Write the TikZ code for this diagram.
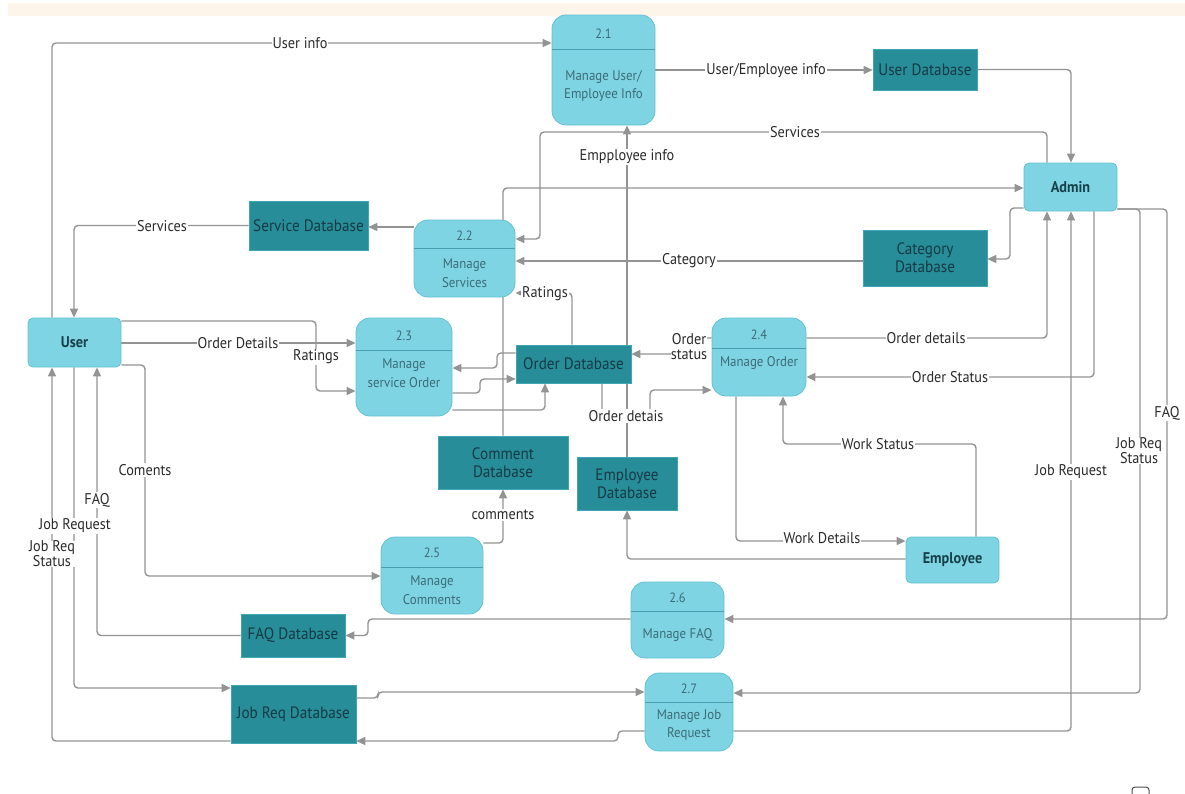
\documentclass[tikz,border=0pt]{standalone}
\usepackage{fontspec}
\setmainfont{PT Sans}[FakeStretch=0.92]
\usetikzlibrary{arrows.meta}
\pgfdeclarelayer{bg}
\pgfsetlayers{bg,main}
\definecolor{procfill}{HTML}{7ED4E3}
\definecolor{procline}{HTML}{62C2D2}
\definecolor{divcol}{HTML}{4C9FB0}
\definecolor{proctext}{HTML}{3C6C78}
\definecolor{storefill}{HTML}{278D99}
\definecolor{storeline}{HTML}{3FA6B3}
\definecolor{storetext}{HTML}{163A45}
\definecolor{enttext}{HTML}{17404B}
\definecolor{flowgray}{HTML}{939393}
\definecolor{lbltext}{HTML}{2A2A2A}
\definecolor{bandcol}{HTML}{FDF4EA}
\newcommand{\lblsize}{\fontsize{15.5}{17}\selectfont}
\newcommand{\storesize}{\fontsize{16.5}{18}\selectfont}
\newcommand{\procsize}{\fontsize{14}{18.5}\selectfont}
\newcommand{\numsize}{\fontsize{13.5}{16}\selectfont}
\begin{document}
\begin{tikzpicture}[x=1pt,y=-1pt,
  proc/.style={draw=procline,fill=procfill,line width=0.8pt,rounded corners=14pt,inner sep=0pt},
  store/.style={draw=storeline,fill=storefill,line width=0.6pt,inner sep=0pt,
    text=storetext,font=\storesize,align=center},
  entity/.style={draw=procline,fill=procfill,line width=0.8pt,rounded corners=5pt,inner sep=0pt,
    text=enttext,font=\lblsize\bfseries},
  divider/.style={draw=divcol,line width=0.8pt},
  pnum/.style={text=proctext,font=\numsize,inner sep=0pt},
  ptxt/.style={text=proctext,font=\procsize,align=center,inner sep=0pt},
  flow/.style={draw=flowgray,line width=1.4pt,rounded corners=4pt,-{Triangle[length=9pt,width=8pt]}},
  lbl/.style={fill=white,inner sep=1pt,text=lbltext,font=\lblsize,align=center}]
\useasboundingbox (0,0) rectangle (1185,793);
\fill[bandcol] (8,3) rectangle (1185,16);

% processes
\node[proc,minimum width=103pt,minimum height=110pt] (p21) at (603.5,70) {};
\node[proc,minimum width=101pt,minimum height=77pt] (p22) at (464.5,258.5) {};
\node[proc,minimum width=96pt,minimum height=98pt] (p23) at (404,367) {};
\node[proc,minimum width=94pt,minimum height=78pt] (p24) at (759,357) {};
\node[proc,minimum width=102pt,minimum height=77pt] (p25) at (432,575.5) {};
\node[proc,minimum width=93pt,minimum height=76pt] (p26) at (677.5,620) {};
\node[proc,minimum width=88pt,minimum height=78pt] (p27) at (689,712) {};
\draw[divider] (p21.west |- 0,49) -- (p21.east |- 0,49);
\draw[divider] (p22.west |- 0,248) -- (p22.east |- 0,248);
\draw[divider] (p23.west |- 0,350) -- (p23.east |- 0,350);
\draw[divider] (p24.west |- 0,348) -- (p24.east |- 0,348);
\draw[divider] (p25.west |- 0,567) -- (p25.east |- 0,567);
\draw[divider] (p26.west |- 0,611) -- (p26.east |- 0,611);
\draw[divider] (p27.west |- 0,702) -- (p27.east |- 0,702);
\node[pnum] (p21n) at (603.5,34) {2.1};
\node[ptxt] (p21t) at (603.5,86) {Manage User/\\Employee Info};
\node[pnum] (p22n) at (464.5,236) {2.2};
\node[ptxt] (p22t) at (464.5,273) {Manage\\Services};
\node[pnum] (p23n) at (404,336) {2.3};
\node[ptxt] (p23t) at (404,373) {Manage\\service Order};
\node[pnum] (p24n) at (759,335) {2.4};
\node[ptxt] (p24t) at (759,363) {Manage Order};
\node[pnum] (p25n) at (432,553) {2.5};
\node[ptxt] (p25t) at (432,590) {Manage\\Comments};
\node[pnum] (p26n) at (677.5,598) {2.6};
\node[ptxt] (p26t) at (677.5,635) {Manage FAQ};
\node[pnum] (p27n) at (689,689) {2.7};
\node[ptxt] (p27t) at (689,725) {Manage Job\\Request};

% data stores
\node[store,minimum width=104pt,minimum height=41pt] (udb) at (925,69.5) {User Database};
\node[store,minimum width=119pt,minimum height=49pt] (sdb) at (308.5,225.5) {Service Database};
\node[store,minimum width=124pt,minimum height=56pt] (cdb) at (925,258) {Category\\Database};
\node[store,minimum width=115pt,minimum height=38pt] (odb) at (573.5,364) {Order Database};
\node[store,minimum width=130pt,minimum height=53pt] (comdb) at (503,462.5) {Comment\\Database};
\node[store,minimum width=100pt,minimum height=53pt] (empdb) at (627,483.5) {Employee\\Database};
\node[store,minimum width=104pt,minimum height=43pt] (faqdb) at (293,635.5) {FAQ Database};
\node[store,minimum width=125pt,minimum height=58pt] (jrdb) at (293.5,714) {Job Req Database};

% external entities
\node[entity,minimum width=93pt,minimum height=49pt] (user) at (74.5,342.5) {User};
\node[entity,minimum width=93pt,minimum height=48pt] (admin) at (1070.5,187) {Admin};
\node[entity,minimum width=93pt,minimum height=46pt] (emp) at (952.5,560) {Employee};

% data flows
\begin{pgfonlayer}{bg}
\draw[flow] (user.north -| 52,0) |- (p21.west |- 0,43);
\draw[flow] (sdb.west) -| (74,0 |- user.north);
\draw[flow] (p22.west |- 0,227) -- (sdb.east |- 0,227);
\draw[flow] (p21.east |- 0,70) -- (udb.west |- 0,70);
\draw[flow] (udb.east) -| (1071,0 |- admin.north);
\draw[flow] (1047,0 |- admin.north) |- (540,132) |- (p22.east |- 0,239);
\draw[flow] (comdb.north) |- (admin.west |- 0,188);
\draw[flow] (empdb.north) -- (empdb.north |- p21.south);
\draw[flow] (admin.west |- 0,208) -| (1010,259) -- (cdb.east |- 0,259);
\draw[flow] (cdb.west |- 0,261) -- (p22.east |- 0,261);
\draw[flow] (572,0 |- odb.north) |- (p22.east |- 0,293);
\draw[flow] (user.east |- 0,343) -- (p23.west |- 0,343);
\draw[flow] (user.east |- 0,321) -| (316,391) -- (p23.west |- 0,391);
\draw[flow] (odb.west |- 0,353) -| (497,368) -- (p23.east |- 0,368);
\draw[flow] (p23.east |- 0,393) -| (480,379) -- (odb.west |- 0,379);
\draw[flow] (p23.east |- 0,410) -| (545,0 |- odb.south);
\draw[flow] (p24.west |- 0,338) -| (690,354) -- (odb.east |- 0,354);
\draw[flow] (602,0 |- odb.south) |- (650,415) |- (p24.west |- 0,390);
\draw[flow] (p24.east |- 0,338) -| (1047,0 |- admin.south);
\draw[flow] (1094,0 |- admin.south) |- (p24.east |- 0,377);
\draw[flow] (736,0 |- p24.south) |- (emp.west |- 0,541);
\draw[flow] (976,0 |- emp.north) |- (783,444) -- (783,0 |- p24.south);
\draw[flow] (emp.west |- 0,559) -| (empdb.south);
\draw[flow] (user.east |- 0,365) -| (145,576) -- (p25.west |- 0,576);
\draw[flow] (p25.east |- 0,543) -| (comdb.south);
\draw[flow] (faqdb.west) -| (97,0 |- user.south);
\draw[flow] (74,0 |- user.south) |- (jrdb.west |- 0,688);
\draw[flow] (jrdb.west |- 0,741) -| (52,0 |- user.south);
\draw[flow] (p26.west |- 0,619) -| (368,635.5) -- (faqdb.east);
\draw[flow] (admin.east |- 0,209) -| (1167,619) -- (p26.east |- 0,619);
\draw[flow] (admin.east |- 0,209) -| (1140,693) -- (p27.east |- 0,693);
\draw[flow] (p27.east |- 0,731) -| (1071,0 |- admin.south);
\draw[flow] (jrdb.east |- 0,698) -| (378,692) -- (p27.west |- 0,692);
\draw[flow] (p27.west |- 0,731) -| (618,741) -- (jrdb.east |- 0,741);
\end{pgfonlayer}

% flow labels
\node[lbl] (l1) at (300,43) {User info};
\node[lbl] (l2) at (766,71) {User/Employee info};
\node[lbl] (l3) at (795,132) {Services};
\node[lbl] (l4) at (627,157) {Empployee info};
\node[lbl] (l5) at (162,226) {Services};
\node[lbl] (l6) at (689,261) {Category};
\node[lbl] (l7) at (545,294) {Ratings};
\node[lbl] (l8) at (238,343) {Order Details};
\node[lbl] (l9) at (316,357) {Ratings};
\node[lbl,inner sep=0pt] (l10) at (689,347) {Order\\[-2pt]status};
\node[lbl] (l11) at (926,338) {Order details};
\node[lbl] (l12) at (950,377) {Order Status};
\node[lbl] (l13) at (626,416) {Order detais};
\node[lbl] (l14) at (1167,413) {FAQ};
\node[lbl,inner sep=0pt] (l15) at (1139,451) {Job Req\\[-2pt]Status};
\node[lbl] (l16) at (1071,472) {Job Request};
\node[lbl] (l17) at (878,444) {Work Status};
\node[lbl] (l18) at (822,538) {Work Details};
\node[lbl] (l19) at (145,470) {Coments};
\node[lbl] (l20) at (97,500) {FAQ};
\node[lbl] (l21) at (75,526) {Job Request};
\node[lbl,inner sep=0pt] (l22) at (52,554) {Job Req\\[-2pt]Status};
\node[lbl] (l23) at (503,515) {comments};

% corner widget
\draw[draw=black!70,line width=1pt,rounded corners=3pt] (1132,796) -- (1132,787) -- (1149,787) -- (1149,796);
\end{tikzpicture}
\end{document}
